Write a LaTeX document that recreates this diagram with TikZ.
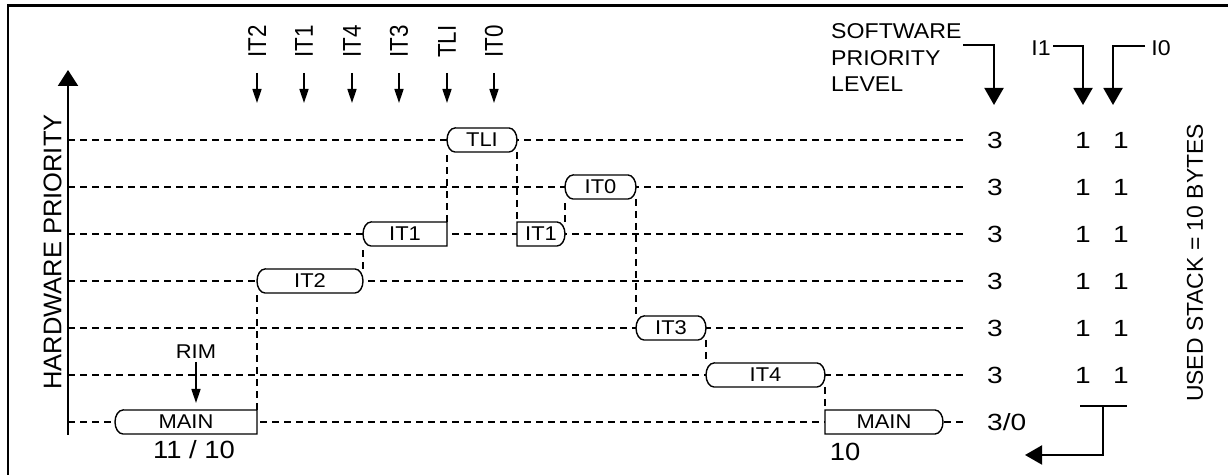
\documentclass[tikz,border=0pt]{standalone}
\usepackage{fontspec}
\setmainfont{Liberation Sans}
\usetikzlibrary{arrows.meta}
\tikzset{
  boxline/.style={line width=1.4bp, draw=black, fill=white},
  dashline/.style={line width=1.4bp, dash pattern=on 7bp off 5bp},
  lab/.style={inner sep=0pt, font=\fontsize{20}{22}\selectfont, xscale=1.1},
  intlab/.style={inner sep=0pt, rotate=90, anchor=west, font=\fontsize{22.5}{24}\selectfont},
  intarrow/.style={line width=1.6bp, -{Triangle[width=9bp,length=14bp]}},
  bigarrow/.style={line width=2bp, -{Triangle[width=19bp,length=17bp]}},
  num/.style={inner sep=0pt, font=\fontsize{23.5}{24}\selectfont, xscale=1.2},
  bignum/.style={inner sep=0pt, font=\fontsize{25}{28}\selectfont, xscale=1.1},
  swtext/.style={inner sep=0pt, font=\fontsize{21.5}{27}\selectfont, xscale=1.08, align=left},
}
% left round, right round
\newcommand\boxRR[5]{%
  \path[boxline] (#2+8,#4+12) -- (#3-8,#4+12) arc[start angle=90,end angle=-90,x radius=8bp,y radius=12bp]
     -- (#2+8,#4-12) arc[start angle=270,end angle=90,x radius=8bp,y radius=12bp] -- cycle;
  \node[lab] (#1) at ({(#2+#3)/2},#4) {#5};
  \coordinate (#1-tl) at (#2,#4+12); \coordinate (#1-tr) at (#3,#4+12);
  \coordinate (#1-bl) at (#2,#4-12); \coordinate (#1-br) at (#3,#4-12);
}
% left round, right square
\newcommand\boxRS[5]{%
  \path[boxline] (#2+8,#4+12) -- (#3,#4+12) -- (#3,#4-12)
     -- (#2+8,#4-12) arc[start angle=270,end angle=90,x radius=8bp,y radius=12bp] -- cycle;
  \node[lab] (#1) at ({(#2+#3)/2},#4) {#5};
  \coordinate (#1-tl) at (#2,#4+12); \coordinate (#1-tr) at (#3,#4+12);
  \coordinate (#1-bl) at (#2,#4-12); \coordinate (#1-br) at (#3,#4-12);
}
% left square, right round
\newcommand\boxSR[5]{%
  \path[boxline] (#2,#4+12) -- (#3-8,#4+12) arc[start angle=90,end angle=-90,x radius=8bp,y radius=12bp]
     -- (#2,#4-12) -- cycle;
  \node[lab] (#1) at ({(#2+#3)/2},#4) {#5};
  \coordinate (#1-tl) at (#2,#4+12); \coordinate (#1-tr) at (#3,#4+12);
  \coordinate (#1-bl) at (#2,#4-12); \coordinate (#1-br) at (#3,#4-12);
}
\begin{document}
\begin{tikzpicture}[x=1bp,y=1bp]
\useasboundingbox (0,0) rectangle (1228,475);
\fill[white] (0,0) rectangle (1228,475);
% frame
\draw[line width=2.7bp] (8,0) -- (8,469.7) -- (1228,469.7);

% horizontal dashed levels
\foreach \yy [count=\i] in {335,288,241,194,147,100,53}{
  \coordinate (ls\i) at (68,\yy);
  \coordinate (le\i) at (967,\yy);
  \draw[dashline] (ls\i) -- (le\i);
}

% axis
\coordinate (axb) at (68,40);
\coordinate (axt) at (68,405);
\draw[line width=2.2bp, -{Triangle[width=20bp,length=16bp]}] (axb) -- (axt);
\node[rotate=90, inner sep=0pt, font=\fontsize{25.6}{30}\selectfont] (hw) at (52.5,223) {HARDWARE PRIORITY};

% boxes
\boxRS{main1}{115}{257}{53}{MAIN}
\boxRR{it2}{257}{363}{194}{IT2}
\boxRS{ita}{363}{447}{241}{IT1}
\boxRR{tli}{447}{517}{335}{TLI}
\boxSR{itb}{517}{565}{241}{IT1}
\boxRR{it0}{565}{636}{288}{IT0}
\boxRR{it3}{636}{706}{147}{IT3}
\boxRR{it4}{706}{825}{100}{IT4}
\boxSR{main2}{825}{943}{53}{MAIN}

% vertical dashed connectors
\draw[dashline] (main1-tr) -- (it2-bl);
\draw[dashline] (it2-tr) -- (ita-bl);
\draw[dashline] (ita-tr) -- (tli-bl);
\draw[dashline] (tli-br) -- (itb-tl);
\draw[dashline] (itb-tr) -- (it0-bl);
\draw[dashline] (it0-br) -- (it3-tl);
\draw[dashline] (it3-br) -- (it4-tl);
\draw[dashline] (it4-br) -- (main2-tl);

% counters under MAIN boxes
\node[bignum] (c1) at (194,25) {11 / 10};
\node[bignum] (c2) at (845,23) {10};

% RIM
\node[lab] (rim) at (196,123) {RIM};
\coordinate (rimst) at (196,113);
\coordinate (rimtip) at (196,72);
\draw[intarrow] (rimst) -- (rimtip);

% interrupt arrows at the top
\foreach \nm/\xx in {IT2/257,IT1/304,IT4/352,IT3/399,TLI/447,IT0/494}{
  \node[intlab] (n\nm) at (\xx,417) {\scalebox{1}[1.15]{\nm}};
  \coordinate (s\nm) at (\xx,402);
  \coordinate (e\nm) at (\xx,372);
  \draw[intarrow] (s\nm) -- (e\nm);
}

% software priority level
\node[swtext, anchor=north west] (sw) at (831,452) {SOFTWARE\\PRIORITY\\LEVEL};
\coordinate (sws) at (963,430);
\coordinate (swt) at (994,370);
\draw[bigarrow] (sws) -| (swt);

% I1 / I0
\node[swtext] (i1) at (1041,427) {I1};
\node[swtext] (i0) at (1161,427) {I0};
\coordinate (i1s) at (1053,429);
\coordinate (i1t) at (1083,370);
\coordinate (i0s) at (1145,429);
\coordinate (i0t) at (1113,370);
\draw[bigarrow] (i1s) -| (i1t);
\draw[bigarrow] (i0s) -| (i0t);

% right columns
\foreach \yy [count=\i] in {335,288,241,194,147,100}{
  \node[num, anchor=west] (sp\i) at (987,\yy) {3};
  \node[num] (ia\i) at (1083,\yy) {1};
  \node[num] (ib\i) at (1121,\yy) {1};
}
\node[num, anchor=west] (sp7) at (987,53) {3/0};

% sum bracket
\coordinate (bl) at (1080,69);
\coordinate (br) at (1127,69);
\coordinate (bm) at (1103,69);
\coordinate (bt) at (1025,20);
\draw[line width=2bp] (bl) -- (br);
\draw[bigarrow] (bm) |- (bt);

\node[rotate=90, inner sep=0pt, font=\fontsize{23}{26}\selectfont] (us) at (1195,212) {USED STACK = 10 BYTES};
\end{tikzpicture}
\end{document}
